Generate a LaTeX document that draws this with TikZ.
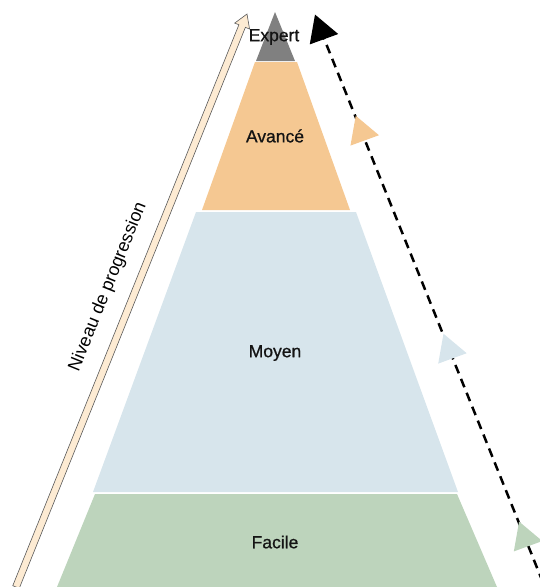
\documentclass[tikz,border=0pt]{standalone}
\usepackage{fontspec}
\setmainfont{Liberation Sans}
\newfontfamily\levelfont[FakeBold=0.8]{Liberation Sans}
\usetikzlibrary{calc}

\definecolor{expertgray}{HTML}{808080}
\definecolor{avanceorange}{HTML}{F5C892}
\definecolor{moyenblue}{HTML}{D7E5EC}
\definecolor{facilegreen}{HTML}{BDD4BC}
\definecolor{arrowpeach}{HTML}{FDEBD3}

\tikzset{
	levelname/.style={font=\levelfont\fontsize{17.5}{20}\selectfont, text=black!92},
	dashline/.style={line width=2.5pt, dash pattern=on 9pt off 6pt},
}

\begin{document}
\begin{tikzpicture}[x=1pt, y=-1pt]
	\useasboundingbox (0,0) rectangle (540,587);
	\clip (0,0) rectangle (540,587);

	% pyramid levels
	\fill[expertgray]   (275,12) -- (295,61) -- (256,61) -- cycle;
	\fill[avanceorange] (255,62) -- (297,62) -- (350,210) -- (202,210) -- cycle;
	\fill[moyenblue]    (196,212) -- (356,212) -- (458,492) -- (93,492) -- cycle;
	\fill[facilegreen]  (95,494) -- (457,494) -- (497,587) -- (57,587) -- cycle;

	\node[levelname] (expert) at (274,37)  {Expert};
	\node[levelname] (avance) at (275,136) {Avancé};
	\node[levelname] (moyen)  at (275,353) {Moyen};
	\node[levelname] (facile) at (275,542) {Facile};

	% progression arrow
	\coordinate (lo) at (16,587);
	\coordinate (hi) at (247,14);
	\coordinate (neck) at ($(hi)!13pt!(lo)$);
	\filldraw[draw=black!65, fill=arrowpeach, line width=0.6pt]
		($(lo)!3.5pt!90:(hi)$) -- ($(neck)!3.5pt!90:(hi)$) -- ($(neck)!8pt!90:(hi)$) -- (hi)
		-- ($(neck)!8pt!-90:(hi)$) -- ($(neck)!3.5pt!-90:(hi)$) -- ($(lo)!3.5pt!-90:(hi)$) -- cycle;
	\node[font=\fontsize{18}{20}\selectfont, rotate=68] (niveau) at (108,287) {Niveau de progression};

	% dashed path with markers
	\coordinate (dtop) at (321,31);
	\coordinate (dbot) at (546,590);
	\draw[dashline] (dtop) -- (dbot);
	\path (dtop) -- (dbot)
		coordinate[pos=0]     (mexp)
		coordinate[pos=0.181] (mavc)
		coordinate[pos=0.571] (mmoy)
		coordinate[pos=0.907] (mfac);
	\foreach \m/\col in {mexp/black, mavc/avanceorange, mmoy/moyenblue, mfac/facilegreen}
		\fill[\col] ($(\m)+(10:17.5)$) -- ($(\m)+(130:17.5)$) -- ($(\m)+(250:17.5)$) -- cycle;
\end{tikzpicture}
\end{document}
